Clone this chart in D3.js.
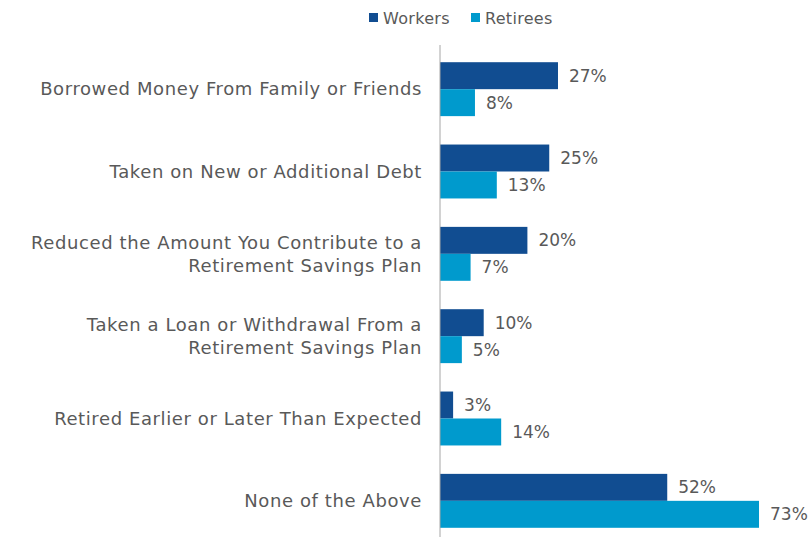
<!DOCTYPE html>
<html>
<head>
    <script src="https://cdnjs.cloudflare.com/ajax/libs/d3/7.8.5/d3.min.js"></script>
    <style>
        body { margin: 0; background: white; }
        text { font-family: 'DejaVu Sans', sans-serif; fill: #595959; }
    </style>
</head>
<body>
    <div id="chart"></div>
    <script>
        const categories = [
            ['Borrowed Money From Family or Friends'],
            ['Taken on New or Additional Debt'],
            ['Reduced the Amount You Contribute to a', 'Retirement Savings Plan'],
            ['Taken a Loan or Withdrawal From a', 'Retirement Savings Plan'],
            ['Retired Earlier or Later Than Expected'],
            ['None of the Above']
        ];
        const seriesNames = ['Workers', 'Retirees'];
        const workers = [27, 25, 20, 10, 3, 52];
        const retirees = [8, 13, 7, 5, 14, 73];
        const colors = ['#114d91', '#009acd'];

        const W = 809, H = 537;
        const svg = d3.select('#chart').append('svg')
            .attr('width', W).attr('height', H);

        const x = d3.scaleLinear().domain([0, 100]).range([440, 877]);
        const y = d3.scaleBand()
            .domain(d3.range(categories.length))
            .range([48, 542])
            .paddingInner(0.345)
            .paddingOuter(0.1725);
        const sub = d3.scaleBand().domain([0, 1]).range([0, y.bandwidth()]);

        const series = [workers, retirees];

        series.forEach((vals, s) => {
            svg.selectAll(null).data(vals).enter().append('rect')
                .attr('x', x(0))
                .attr('y', (d, i) => y(i) + sub(s))
                .attr('width', d => x(d) - x(0))
                .attr('height', sub.bandwidth())
                .attr('fill', colors[s]);

            svg.selectAll(null).data(vals).enter().append('text')
                .attr('x', d => x(d) + 11)
                .attr('y', (d, i) => y(i) + sub(s) + sub.bandwidth() / 2)
                .attr('dy', '0.35em')
                .style('font-size', '17px')
                .text(d => d + '%');
        });

        // category labels
        categories.forEach((lines, i) => {
            const cy = y(i) + y.bandwidth() / 2;
            const t = svg.append('text')
                .attr('text-anchor', 'end')
                .style('font-size', '18px')
                .style('letter-spacing', '0.6px');
            lines.forEach((ln, j) => {
                t.append('tspan')
                    .attr('x', 422)
                    .attr('y', cy + (j - (lines.length - 1) / 2) * 23)
                    .attr('dy', '0.35em')
                    .text(ln);
            });
        });

        // axis line
        svg.append('line')
            .attr('x1', x(0)).attr('x2', x(0))
            .attr('y1', 45).attr('y2', H)
            .attr('stroke', '#a6a6a6').attr('stroke-width', 1);

        // legend
        const legendX = [369, 471];
        seriesNames.forEach((name, s) => {
            svg.append('rect')
                .attr('x', legendX[s]).attr('y', 13)
                .attr('width', 9).attr('height', 9)
                .attr('fill', colors[s]);
            svg.append('text')
                .attr('x', legendX[s] + 14).attr('y', 18)
                .attr('dy', '0.35em')
                .style('font-size', '16px')
                .style('letter-spacing', '0.3px')
                .text(name);
        });
    </script>
</body>
</html>
